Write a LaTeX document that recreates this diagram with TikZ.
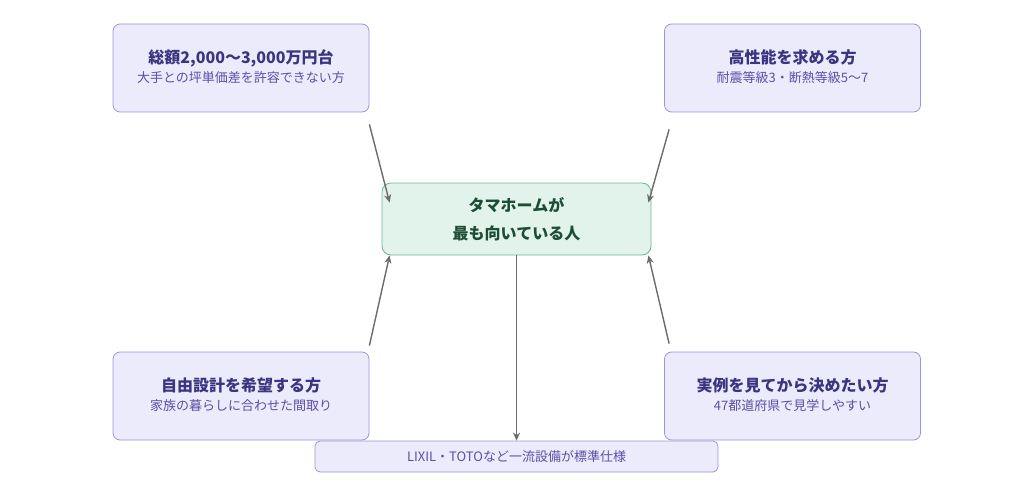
\documentclass[tikz,border=0pt]{standalone}
\usepackage{fontspec}
\usetikzlibrary{arrows.meta}
\setmainfont{Noto Sans CJK JP}
\definecolor{boxfill}{HTML}{ECEBFC}
\definecolor{boxline}{HTML}{9F93DA}
\definecolor{boxtext}{HTML}{3B3480}
\definecolor{subtext}{HTML}{5A4FA8}
\definecolor{hubfill}{HTML}{E1F3EA}
\definecolor{hubline}{HTML}{6DB692}
\definecolor{hubtext}{HTML}{1E4D36}
\definecolor{arrowgray}{HTML}{6B6B6B}
\newcommand{\twolines}[2]{\begin{tabular}{@{}c@{}}\fontsize{16}{20}\selectfont\bfseries #1\\[4pt]\fontsize{13}{16}\selectfont\color{subtext}#2\end{tabular}}
\begin{document}
\begin{tikzpicture}[
    x=1pt, y=-1pt,
    target/.style={rectangle,rounded corners=7pt,draw=boxline,fill=boxfill,line width=0.8pt,
      minimum width=256pt,minimum height=88pt,align=center,text=boxtext,inner sep=0pt},
    hub/.style={rectangle,rounded corners=9pt,draw=hubline,fill=hubfill,line width=0.8pt,
      minimum width=269pt,minimum height=72pt,align=center,text=hubtext,inner sep=0pt},
    note/.style={rectangle,rounded corners=5pt,draw=boxline,fill=boxfill,line width=0.8pt,
      minimum width=403pt,minimum height=31pt,text=subtext,font=\fontsize{13}{15}\selectfont,inner sep=0pt},
    link/.style={draw=arrowgray,line width=1.4pt,-{Stealth[length=8pt,width=7pt]}}
    ]
    \useasboundingbox (0,0) rectangle (1024,484);

    % outer boxes:
    \node (budget) at (241, 68) [target] {\twolines{総額2,000〜3,000万円台}{大手との坪単価差を許容できない方}};
    \node (perf) at (792.5, 68) [target] {\twolines{高性能を求める方}{耐震等級3・断熱等級5〜7}};
    \node (design) at (241, 396) [target] {\twolines{自由設計を希望する方}{家族の暮らしに合わせた間取り}};
    \node (visit) at (792.5, 396) [target] {\twolines{実例を見てから決めたい方}{47都道府県で見学しやすい}};

    % middle box:
    \node (hub) at (516.5, 219) [hub, font=\fontsize{16}{28}\selectfont\bfseries] {タマホームが\\最も向いている人};

    % bottom note:
    \node (equip) at (516.5, 456.5) [note] {LIXIL・TOTOなど一流設備が標準仕様};

    % connect nodes:
    \draw [link] ([yshift=-12pt]budget.south east) to ([xshift=8pt,yshift=-20pt]hub.north west);
    \draw [link] ([xshift=5pt,yshift=-17pt]perf.south west) to ([xshift=-3pt,yshift=-20pt]hub.north east);
    \draw [link] ([yshift=6pt]design.north east) to ([xshift=8pt]hub.south west);
    \draw [link] ([xshift=5pt,yshift=8pt]visit.north west) to ([xshift=-3pt]hub.south east);
    \draw [link] (hub.south) to (equip.north);

  \end{tikzpicture}
\end{document}
